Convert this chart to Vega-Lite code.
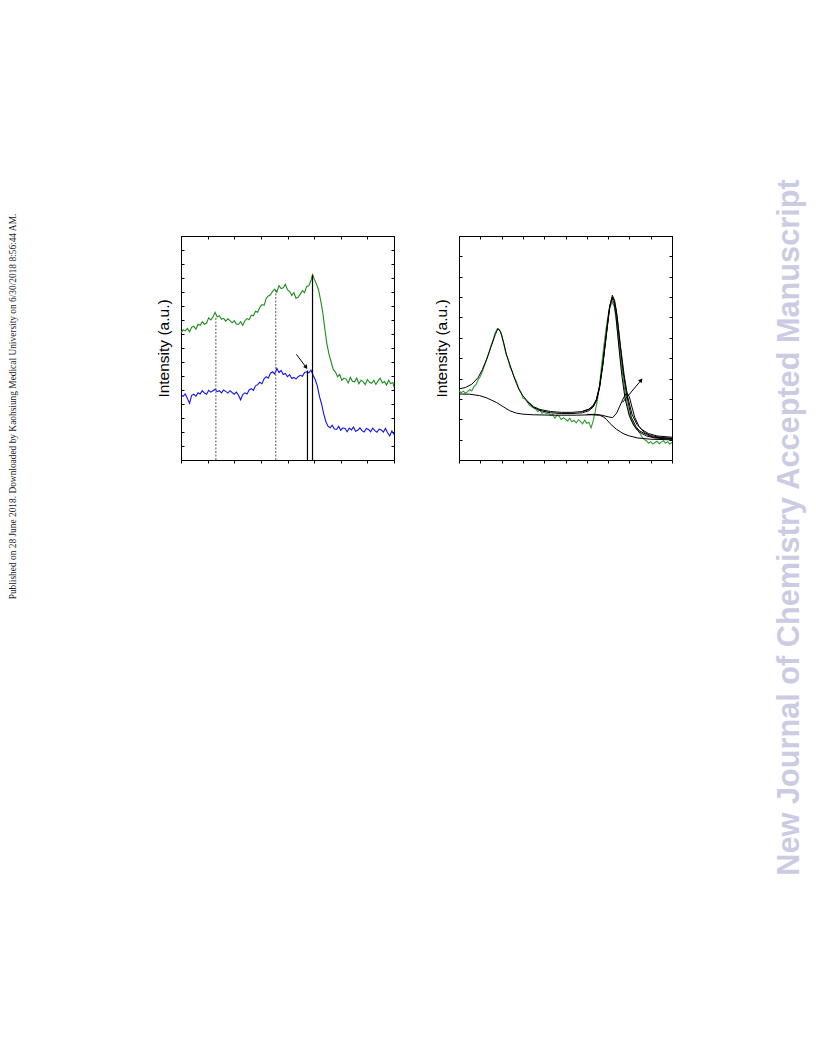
{
  "$schema": "https://vega.github.io/schema/vega-lite/v6.json",
  "background": "white",
  "padding": {"left": 5, "top": 178, "right": 5, "bottom": 5},
  "bounds": "flush",
  "spacing": 65,
  "datasets": {
    "leftNote": [{"label": "Published on 28 June 2018. Downloaded by Kaohsiung Medical University on 6/30/2018 8:56:44 AM.", "x": 8, "y": 53.5}],
    "rightNote": [{"label": "New Journal of Chemistry Accepted Manuscript", "x": 53, "y": -67.5}],
    "left": [
      {"s":"g","x":0.00,"y":9.10},{"s":"g","x":0.08,"y":9.30},{"s":"g","x":0.16,"y":9.22},{"s":"g","x":0.24,"y":9.40},{"s":"g","x":0.32,"y":9.15},
      {"s":"g","x":0.40,"y":9.48},{"s":"g","x":0.48,"y":9.55},{"s":"g","x":0.56,"y":9.35},{"s":"g","x":0.64,"y":9.70},{"s":"g","x":0.72,"y":9.62},
      {"s":"g","x":0.80,"y":9.88},{"s":"g","x":0.88,"y":9.70},{"s":"g","x":0.96,"y":9.78},{"s":"g","x":1.04,"y":10.15},{"s":"g","x":1.12,"y":10.00},
      {"s":"g","x":1.20,"y":10.20},{"s":"g","x":1.28,"y":10.55},{"s":"g","x":1.36,"y":10.22},{"s":"g","x":1.44,"y":10.30},{"s":"g","x":1.52,"y":10.05},
      {"s":"g","x":1.60,"y":10.12},{"s":"g","x":1.68,"y":9.92},{"s":"g","x":1.76,"y":10.08},{"s":"g","x":1.84,"y":9.95},{"s":"g","x":1.92,"y":9.80},
      {"s":"g","x":2.00,"y":9.95},{"s":"g","x":2.08,"y":9.72},{"s":"g","x":2.16,"y":9.68},{"s":"g","x":2.24,"y":9.88},{"s":"g","x":2.32,"y":9.62},
      {"s":"g","x":2.40,"y":9.95},{"s":"g","x":2.48,"y":10.10},{"s":"g","x":2.56,"y":10.02},{"s":"g","x":2.64,"y":10.35},{"s":"g","x":2.72,"y":10.30},
      {"s":"g","x":2.80,"y":10.62},{"s":"g","x":2.88,"y":10.55},{"s":"g","x":2.96,"y":10.90},{"s":"g","x":3.04,"y":11.10},{"s":"g","x":3.12,"y":11.05},
      {"s":"g","x":3.20,"y":11.55},{"s":"g","x":3.28,"y":11.72},{"s":"g","x":3.36,"y":11.80},{"s":"g","x":3.44,"y":12.05},{"s":"g","x":3.52,"y":12.20},
      {"s":"g","x":3.60,"y":11.98},{"s":"g","x":3.68,"y":12.45},{"s":"g","x":3.76,"y":12.25},{"s":"g","x":3.84,"y":12.30},{"s":"g","x":3.92,"y":12.55},
      {"s":"g","x":4.00,"y":12.15},{"s":"g","x":4.08,"y":12.05},{"s":"g","x":4.16,"y":11.75},{"s":"g","x":4.24,"y":11.95},{"s":"g","x":4.32,"y":11.55},
      {"s":"g","x":4.40,"y":11.62},{"s":"g","x":4.48,"y":11.85},{"s":"g","x":4.56,"y":12.10},{"s":"g","x":4.64,"y":11.95},{"s":"g","x":4.72,"y":12.40},
      {"s":"g","x":4.80,"y":12.45},{"s":"g","x":4.88,"y":12.80},{"s":"g","x":4.94,"y":13.25},{"s":"g","x":5.00,"y":12.95},{"s":"g","x":5.08,"y":12.60},
      {"s":"g","x":5.16,"y":12.20},{"s":"g","x":5.24,"y":11.45},{"s":"g","x":5.32,"y":10.60},{"s":"g","x":5.40,"y":9.40},{"s":"g","x":5.48,"y":8.30},
      {"s":"g","x":5.56,"y":7.55},{"s":"g","x":5.64,"y":7.00},{"s":"g","x":5.72,"y":6.45},{"s":"g","x":5.80,"y":6.30},{"s":"g","x":5.88,"y":5.95},
      {"s":"g","x":5.96,"y":6.10},{"s":"g","x":6.04,"y":5.70},{"s":"g","x":6.12,"y":5.85},{"s":"g","x":6.20,"y":5.78},{"s":"g","x":6.28,"y":5.50},
      {"s":"g","x":6.36,"y":5.90},{"s":"g","x":6.44,"y":5.62},{"s":"g","x":6.52,"y":5.58},{"s":"g","x":6.60,"y":5.85},{"s":"g","x":6.68,"y":5.45},
      {"s":"g","x":6.76,"y":5.70},{"s":"g","x":6.84,"y":5.60},{"s":"g","x":6.92,"y":5.38},{"s":"g","x":7.00,"y":5.75},{"s":"g","x":7.08,"y":5.55},
      {"s":"g","x":7.16,"y":5.48},{"s":"g","x":7.24,"y":5.70},{"s":"g","x":7.32,"y":5.40},{"s":"g","x":7.40,"y":5.65},{"s":"g","x":7.48,"y":5.85},
      {"s":"g","x":7.56,"y":5.50},{"s":"g","x":7.64,"y":5.60},{"s":"g","x":7.72,"y":5.35},{"s":"g","x":7.80,"y":5.70},{"s":"g","x":7.88,"y":5.45},
      {"s":"g","x":7.96,"y":5.55},{"s":"g","x":8.00,"y":5.18},
      {"s":"b","x":0.00,"y":4.65},{"s":"b","x":0.08,"y":4.55},{"s":"b","x":0.16,"y":4.72},{"s":"b","x":0.24,"y":4.40},{"s":"b","x":0.32,"y":4.05},
      {"s":"b","x":0.40,"y":4.62},{"s":"b","x":0.48,"y":4.70},{"s":"b","x":0.56,"y":4.55},{"s":"b","x":0.64,"y":4.80},{"s":"b","x":0.72,"y":4.72},
      {"s":"b","x":0.80,"y":4.95},{"s":"b","x":0.88,"y":4.78},{"s":"b","x":0.96,"y":4.70},{"s":"b","x":1.04,"y":4.98},{"s":"b","x":1.12,"y":4.85},
      {"s":"b","x":1.20,"y":4.95},{"s":"b","x":1.28,"y":5.05},{"s":"b","x":1.36,"y":4.88},{"s":"b","x":1.44,"y":4.95},{"s":"b","x":1.52,"y":4.80},
      {"s":"b","x":1.60,"y":5.00},{"s":"b","x":1.68,"y":4.90},{"s":"b","x":1.76,"y":4.78},{"s":"b","x":1.84,"y":4.95},{"s":"b","x":1.92,"y":4.82},
      {"s":"b","x":2.00,"y":4.70},{"s":"b","x":2.08,"y":4.85},{"s":"b","x":2.16,"y":4.62},{"s":"b","x":2.24,"y":4.30},{"s":"b","x":2.32,"y":4.68},
      {"s":"b","x":2.40,"y":4.80},{"s":"b","x":2.48,"y":4.72},{"s":"b","x":2.56,"y":5.00},{"s":"b","x":2.64,"y":5.10},{"s":"b","x":2.72,"y":4.98},
      {"s":"b","x":2.80,"y":5.30},{"s":"b","x":2.88,"y":5.38},{"s":"b","x":2.96,"y":5.55},{"s":"b","x":3.04,"y":5.45},{"s":"b","x":3.12,"y":5.80},
      {"s":"b","x":3.20,"y":5.95},{"s":"b","x":3.28,"y":5.85},{"s":"b","x":3.36,"y":6.20},{"s":"b","x":3.44,"y":6.30},{"s":"b","x":3.52,"y":6.15},
      {"s":"b","x":3.60,"y":6.55},{"s":"b","x":3.68,"y":6.25},{"s":"b","x":3.76,"y":6.40},{"s":"b","x":3.84,"y":6.10},{"s":"b","x":3.92,"y":6.18},
      {"s":"b","x":4.00,"y":5.95},{"s":"b","x":4.08,"y":6.10},{"s":"b","x":4.16,"y":5.82},{"s":"b","x":4.24,"y":5.90},{"s":"b","x":4.32,"y":5.78},
      {"s":"b","x":4.40,"y":5.95},{"s":"b","x":4.48,"y":6.05},{"s":"b","x":4.56,"y":5.98},{"s":"b","x":4.64,"y":6.25},{"s":"b","x":4.72,"y":6.30},
      {"s":"b","x":4.80,"y":6.22},{"s":"b","x":4.88,"y":6.42},{"s":"b","x":4.96,"y":6.05},{"s":"b","x":5.04,"y":5.75},{"s":"b","x":5.12,"y":5.30},
      {"s":"b","x":5.20,"y":4.55},{"s":"b","x":5.28,"y":4.00},{"s":"b","x":5.36,"y":3.30},{"s":"b","x":5.44,"y":2.75},{"s":"b","x":5.52,"y":2.42},
      {"s":"b","x":5.60,"y":2.30},{"s":"b","x":5.68,"y":2.48},{"s":"b","x":5.76,"y":2.22},{"s":"b","x":5.84,"y":2.18},{"s":"b","x":5.92,"y":2.40},
      {"s":"b","x":6.00,"y":2.12},{"s":"b","x":6.08,"y":2.30},{"s":"b","x":6.16,"y":2.25},{"s":"b","x":6.24,"y":2.02},{"s":"b","x":6.32,"y":2.28},
      {"s":"b","x":6.40,"y":2.15},{"s":"b","x":6.48,"y":2.35},{"s":"b","x":6.56,"y":2.05},{"s":"b","x":6.64,"y":2.12},{"s":"b","x":6.72,"y":2.30},
      {"s":"b","x":6.80,"y":2.10},{"s":"b","x":6.88,"y":2.00},{"s":"b","x":6.96,"y":2.25},{"s":"b","x":7.04,"y":2.18},{"s":"b","x":7.12,"y":2.02},
      {"s":"b","x":7.20,"y":2.28},{"s":"b","x":7.28,"y":2.10},{"s":"b","x":7.36,"y":1.98},{"s":"b","x":7.44,"y":2.20},{"s":"b","x":7.52,"y":2.15},
      {"s":"b","x":7.60,"y":2.00},{"s":"b","x":7.68,"y":2.25},{"s":"b","x":7.76,"y":1.95},{"s":"b","x":7.84,"y":1.72},{"s":"b","x":7.92,"y":2.08},
      {"s":"b","x":8.00,"y":1.82}
    ],
    "leftDotted": [{"x": 1.31, "y0": 0, "y1": 10.2}, {"x": 3.56, "y0": 0, "y1": 12.25}],
    "leftSolid": [{"x": 4.75, "y0": 0, "y1": 6.4}, {"x": 4.94, "y0": 0, "y1": 13.2}],
    "leftArrow": [{"x": 4.33, "y": 7.55}, {"x": 4.70, "y": 6.62}],
    "leftHead": [{"x": 4.70, "y": 6.62}],
    "right": [
      {"x":0.0,"y":3.40},{"x":0.1,"y":3.30},{"x":0.2,"y":3.38},{"x":0.3,"y":3.28},{"x":0.4,"y":3.36},{"x":0.5,"y":3.45},{"x":0.6,"y":3.40},{"x":0.7,"y":3.60},{"x":0.8,"y":3.70},{"x":0.9,"y":3.95},
      {"x":1.0,"y":4.10},{"x":1.1,"y":4.35},{"x":1.2,"y":4.65},{"x":1.3,"y":4.95},{"x":1.4,"y":5.25},{"x":1.5,"y":5.60},{"x":1.6,"y":5.90},{"x":1.7,"y":6.25},{"x":1.8,"y":6.45},{"x":1.9,"y":6.40},
      {"x":2.0,"y":6.15},{"x":2.1,"y":5.70},{"x":2.2,"y":5.25},{"x":2.3,"y":4.95},{"x":2.4,"y":4.55},{"x":2.5,"y":4.35},{"x":2.6,"y":4.05},{"x":2.7,"y":3.85},{"x":2.8,"y":3.50},{"x":2.9,"y":3.35},
      {"x":3.0,"y":3.05},{"x":3.1,"y":3.00},{"x":3.2,"y":2.85},{"x":3.3,"y":2.70},{"x":3.4,"y":2.62},{"x":3.5,"y":2.55},{"x":3.6,"y":2.50},{"x":3.7,"y":2.38},{"x":3.8,"y":2.45},{"x":3.9,"y":2.30},
      {"x":4.0,"y":2.36},{"x":4.1,"y":2.28},{"x":4.2,"y":2.32},{"x":4.3,"y":2.18},{"x":4.4,"y":2.25},{"x":4.5,"y":2.05},{"x":4.6,"y":2.20},{"x":4.7,"y":2.15},{"x":4.8,"y":1.98},{"x":4.9,"y":2.08},
      {"x":5.0,"y":2.00},{"x":5.1,"y":1.92},{"x":5.2,"y":2.05},{"x":5.3,"y":1.88},{"x":5.4,"y":1.95},{"x":5.5,"y":1.82},{"x":5.6,"y":1.98},{"x":5.7,"y":1.90},{"x":5.8,"y":1.78},{"x":5.9,"y":1.95},
      {"x":6.0,"y":1.80},{"x":6.1,"y":1.85},{"x":6.2,"y":1.58},{"x":6.3,"y":1.92},{"x":6.4,"y":2.40},{"x":6.5,"y":2.95},{"x":6.6,"y":3.70},{"x":6.7,"y":4.70},{"x":6.8,"y":5.60},{"x":6.9,"y":6.40},
      {"x":7.0,"y":7.10},{"x":7.1,"y":7.55},{"x":7.2,"y":7.75},{"x":7.3,"y":7.50},{"x":7.4,"y":6.70},{"x":7.5,"y":5.80},{"x":7.6,"y":4.85},{"x":7.7,"y":4.05},{"x":7.8,"y":3.30},{"x":7.9,"y":2.75},
      {"x":8.0,"y":2.25},{"x":8.1,"y":1.95},{"x":8.2,"y":1.75},{"x":8.3,"y":1.55},{"x":8.4,"y":1.45},{"x":8.5,"y":1.30},{"x":8.6,"y":1.12},{"x":8.7,"y":1.00},{"x":8.8,"y":0.95},{"x":8.9,"y":0.82},
      {"x":9.0,"y":0.90},{"x":9.1,"y":0.78},{"x":9.2,"y":0.86},{"x":9.3,"y":0.92},{"x":9.4,"y":0.80},{"x":9.5,"y":0.88},{"x":9.6,"y":0.95},{"x":9.7,"y":0.82},{"x":9.8,"y":0.90},{"x":9.9,"y":0.78},
      {"x":10.0,"y":0.88}
    ],
    "fits": [
      {"f":"fit1","x":0,"y":3.49},{"f":"fit1","x":0.3,"y":3.56},{"f":"fit1","x":0.6,"y":3.72},{"f":"fit1","x":0.9,"y":4.05},{"f":"fit1","x":1.1,"y":4.45},
      {"f":"fit1","x":1.3,"y":4.95},{"f":"fit1","x":1.5,"y":5.55},{"f":"fit1","x":1.7,"y":6.15},{"f":"fit1","x":1.83,"y":6.45},{"f":"fit1","x":1.95,"y":6.3},
      {"f":"fit1","x":2.1,"y":5.75},{"f":"fit1","x":2.22,"y":5.2},{"f":"fit1","x":2.4,"y":4.65},{"f":"fit1","x":2.54,"y":4.2},{"f":"fit1","x":2.7,"y":3.75},
      {"f":"fit1","x":2.85,"y":3.4},{"f":"fit1","x":3.0,"y":3.15},{"f":"fit1","x":3.2,"y":2.9},{"f":"fit1","x":3.5,"y":2.62},{"f":"fit1","x":3.8,"y":2.48},
      {"f":"fit1","x":4.3,"y":2.38},{"f":"fit1","x":4.8,"y":2.34},{"f":"fit1","x":5.3,"y":2.34},{"f":"fit1","x":5.8,"y":2.38},{"f":"fit1","x":6.1,"y":2.48},
      {"f":"fit1","x":6.3,"y":2.65},{"f":"fit1","x":6.45,"y":2.95},{"f":"fit1","x":6.6,"y":3.6},{"f":"fit1","x":6.75,"y":4.7},{"f":"fit1","x":6.92,"y":6.2},
      {"f":"fit1","x":7.07,"y":7.5},{"f":"fit1","x":7.2,"y":8.09},{"f":"fit1","x":7.3,"y":7.85},{"f":"fit1","x":7.39,"y":7.3},{"f":"fit1","x":7.54,"y":5.85},
      {"f":"fit1","x":7.7,"y":4.4},{"f":"fit1","x":7.86,"y":3.25},{"f":"fit1","x":8.09,"y":2.1},{"f":"fit1","x":8.3,"y":1.65},{"f":"fit1","x":8.48,"y":1.43},
      {"f":"fit1","x":8.8,"y":1.25},{"f":"fit1","x":9.1,"y":1.13},{"f":"fit1","x":9.5,"y":1.09},{"f":"fit1","x":10,"y":1.07},
      {"f":"fit2","x":3.2,"y":2.88},{"f":"fit2","x":3.5,"y":2.58},{"f":"fit2","x":3.8,"y":2.43},{"f":"fit2","x":4.3,"y":2.32},{"f":"fit2","x":4.8,"y":2.28},
      {"f":"fit2","x":5.3,"y":2.28},{"f":"fit2","x":5.8,"y":2.32},{"f":"fit2","x":6.1,"y":2.42},{"f":"fit2","x":6.3,"y":2.6},{"f":"fit2","x":6.45,"y":2.9},
      {"f":"fit2","x":6.6,"y":3.55},{"f":"fit2","x":6.75,"y":4.65},{"f":"fit2","x":6.92,"y":6.15},{"f":"fit2","x":7.07,"y":7.45},{"f":"fit2","x":7.18,"y":7.95},
      {"f":"fit2","x":7.28,"y":7.7},{"f":"fit2","x":7.37,"y":7.1},{"f":"fit2","x":7.5,"y":5.6},{"f":"fit2","x":7.65,"y":4.1},{"f":"fit2","x":7.8,"y":3.0},
      {"f":"fit2","x":8.0,"y":2.15},{"f":"fit2","x":8.2,"y":1.7},{"f":"fit2","x":8.45,"y":1.38},{"f":"fit2","x":8.8,"y":1.18},{"f":"fit2","x":9.2,"y":1.08},
      {"f":"fit2","x":10,"y":1.02},
      {"f":"fit3","x":5.8,"y":2.4},{"f":"fit3","x":6.1,"y":2.5},{"f":"fit3","x":6.3,"y":2.68},{"f":"fit3","x":6.45,"y":2.98},{"f":"fit3","x":6.6,"y":3.62},
      {"f":"fit3","x":6.75,"y":4.72},{"f":"fit3","x":6.92,"y":6.22},{"f":"fit3","x":7.07,"y":7.55},{"f":"fit3","x":7.2,"y":8.0},{"f":"fit3","x":7.3,"y":7.8},
      {"f":"fit3","x":7.42,"y":7.1},{"f":"fit3","x":7.58,"y":5.6},{"f":"fit3","x":7.75,"y":4.2},{"f":"fit3","x":7.92,"y":3.1},{"f":"fit3","x":8.12,"y":2.25},
      {"f":"fit3","x":8.35,"y":1.75},{"f":"fit3","x":8.6,"y":1.48},{"f":"fit3","x":8.9,"y":1.3},{"f":"fit3","x":9.3,"y":1.18},{"f":"fit3","x":10,"y":1.12},
      {"f":"base","x":0,"y":3.24},{"f":"base","x":0.5,"y":3.23},{"f":"base","x":0.97,"y":3.16},{"f":"base","x":1.3,"y":3.05},{"f":"base","x":1.75,"y":2.83},
      {"f":"base","x":2.1,"y":2.6},{"f":"base","x":2.38,"y":2.42},{"f":"base","x":2.7,"y":2.3},{"f":"base","x":3.0,"y":2.25},{"f":"base","x":3.5,"y":2.22},
      {"f":"base","x":4.5,"y":2.2},{"f":"base","x":5.5,"y":2.2},{"f":"base","x":6.2,"y":2.22},{"f":"base","x":6.6,"y":2.2},{"f":"base","x":6.8,"y":2.1},
      {"f":"base","x":6.92,"y":2.0},{"f":"base","x":7.1,"y":1.78},{"f":"base","x":7.39,"y":1.51},{"f":"base","x":7.7,"y":1.3},{"f":"base","x":8.0,"y":1.18},
      {"f":"base","x":8.4,"y":1.08},{"f":"base","x":9.0,"y":1.02},{"f":"base","x":10,"y":0.99},
      {"f":"shoulder","x":6.0,"y":2.24},{"f":"shoulder","x":6.4,"y":2.24},{"f":"shoulder","x":6.7,"y":2.2},{"f":"shoulder","x":7.0,"y":2.12},{"f":"shoulder","x":7.21,"y":2.08},
      {"f":"shoulder","x":7.4,"y":2.3},{"f":"shoulder","x":7.55,"y":2.65},{"f":"shoulder","x":7.68,"y":2.95},{"f":"shoulder","x":7.8,"y":3.2},{"f":"shoulder","x":7.9,"y":3.28},
      {"f":"shoulder","x":8.0,"y":3.1},{"f":"shoulder","x":8.12,"y":2.6},{"f":"shoulder","x":8.25,"y":2.1},{"f":"shoulder","x":8.45,"y":1.65},{"f":"shoulder","x":8.7,"y":1.35},
      {"f":"shoulder","x":9.0,"y":1.2},{"f":"shoulder","x":9.5,"y":1.1},{"f":"shoulder","x":10,"y":1.05}
    ],
    "rightArrow": [{"x": 7.68, "y": 2.83}, {"x": 8.55, "y": 3.92}],
    "rightHead": [{"x": 8.55, "y": 3.92}]
  },
  "hconcat": [
    {
      "width": 111, "height": 224,
      "data": {"name": "leftNote"},
      "mark": {"type": "text", "angle": 270, "font": "Liberation Serif", "fontSize": 9.4, "color": "#222", "align": "center", "baseline": "middle"},
      "encoding": {
        "x": {"field": "x", "type": "quantitative", "scale": {"domain": [0, 111], "nice": false, "zero": false}, "axis": null},
        "y": {"field": "y", "type": "quantitative", "scale": {"domain": [0, 224], "nice": false, "zero": false}, "axis": null},
        "text": {"field": "label"}
      }
    },
    {
      "width": 213, "height": 224,
      "resolve": {"axis": {"x": "independent", "y": "independent"}},
      "layer": [
        {
          "data": {"name": "left"},
          "mark": {"type": "line", "strokeWidth": 1.1},
          "encoding": {
            "x": {"field": "x", "type": "quantitative", "scale": {"domain": [0, 8], "nice": false, "zero": false}, "axis": {"orient": "bottom", "values": [0,1,2,3,4,5,6,7,8], "tickSize": 3, "title": null}},
            "y": {"field": "y", "type": "quantitative", "scale": {"domain": [0, 16], "nice": false, "zero": false}, "axis": {"orient": "left", "values": [0,1,2,3,4,5,6,7,8,9,10,11,12,13,14,15,16], "tickSize": -3, "title": "Intensity (a.u.)", "titlePadding": 9}},
            "color": {"field": "s", "type": "nominal", "scale": {"domain": ["g", "b"], "range": ["#1e8c1e", "#1212f0"]}, "legend": null}
          }
        },
        {
          "data": {"name": "leftDotted"},
          "mark": {"type": "rule", "color": "#555", "strokeWidth": 1, "strokeDash": [2, 1.5]},
          "encoding": {
            "x": {"field": "x", "type": "quantitative", "axis": {"orient": "top", "values": [0,1,2,3,4,5,6,7,8], "tickSize": -3, "title": null}},
            "y": {"field": "y0", "type": "quantitative", "axis": {"orient": "right", "values": [0,1,2,3,4,5,6,7,8,9,10,11,12,13,14,15,16], "tickSize": -3, "title": null}},
            "y2": {"field": "y1"}
          }
        },
        {
          "data": {"name": "leftSolid"},
          "mark": {"type": "rule", "color": "#000", "strokeWidth": 1.2},
          "encoding": {
            "x": {"field": "x", "type": "quantitative", "axis": null},
            "y": {"field": "y0", "type": "quantitative", "axis": null},
            "y2": {"field": "y1"}
          }
        },
        {
          "data": {"name": "leftArrow"},
          "mark": {"type": "line", "color": "#000", "strokeWidth": 1},
          "encoding": {
            "x": {"field": "x", "type": "quantitative", "axis": null},
            "y": {"field": "y", "type": "quantitative", "axis": null}
          }
        },
        {
          "data": {"name": "leftHead"},
          "mark": {"type": "point", "shape": "triangle-up", "filled": true, "color": "#000", "size": 22, "angle": 146, "opacity": 1},
          "encoding": {
            "x": {"field": "x", "type": "quantitative", "axis": null},
            "y": {"field": "y", "type": "quantitative", "axis": null}
          }
        }
      ]
    },
    {
      "width": 213, "height": 224,
      "resolve": {"axis": {"x": "independent", "y": "independent"}},
      "layer": [
        {
          "data": {"name": "right"},
          "mark": {"type": "line", "strokeWidth": 1.1, "color": "#2f9a2f"},
          "encoding": {
            "x": {"field": "x", "type": "quantitative", "scale": {"domain": [0, 10], "nice": false, "zero": false}, "axis": {"orient": "bottom", "values": [0,1,2,3,4,5,6,7,8,9,10], "tickSize": 3, "title": null}},
            "y": {"field": "y", "type": "quantitative", "scale": {"domain": [0, 11], "nice": false, "zero": false}, "axis": {"orient": "left", "values": [0,1,2,3,4,5,6,7,8,9,10,11], "tickSize": -3, "title": "Intensity (a.u.)", "titlePadding": 9}}
          }
        },
        {
          "data": {"name": "fits"},
          "mark": {"type": "line", "strokeWidth": 1, "color": "#000"},
          "encoding": {
            "x": {"field": "x", "type": "quantitative", "axis": {"orient": "top", "values": [0,1,2,3,4,5,6,7,8,9,10], "tickSize": -3, "title": null}},
            "y": {"field": "y", "type": "quantitative", "axis": {"orient": "right", "values": [0,1,2,3,4,5,6,7,8,9,10,11], "tickSize": -3, "title": null}},
            "detail": {"field": "f", "type": "nominal"}
          }
        },
        {
          "data": {"name": "rightArrow"},
          "mark": {"type": "line", "color": "#000", "strokeWidth": 1},
          "encoding": {
            "x": {"field": "x", "type": "quantitative", "axis": null},
            "y": {"field": "y", "type": "quantitative", "axis": null}
          }
        },
        {
          "data": {"name": "rightHead"},
          "mark": {"type": "point", "shape": "triangle-up", "filled": true, "color": "#000", "size": 22, "angle": 40, "opacity": 1},
          "encoding": {
            "x": {"field": "x", "type": "quantitative", "axis": null},
            "y": {"field": "y", "type": "quantitative", "axis": null}
          }
        }
      ]
    },
    {
      "width": 70, "height": 224,
      "data": {"name": "rightNote"},
      "mark": {"type": "text", "angle": 270, "font": "Liberation Sans", "fontWeight": "bold", "fontSize": 30.7, "color": "#cbcbe3", "align": "center", "baseline": "middle"},
      "encoding": {
        "x": {"field": "x", "type": "quantitative", "scale": {"domain": [0, 70], "nice": false, "zero": false}, "axis": null},
        "y": {"field": "y", "type": "quantitative", "scale": {"domain": [0, 224], "nice": false, "zero": false}, "axis": null},
        "text": {"field": "label"}
      }
    }
  ],
  "config": {
    "view": {"stroke": null},
    "axis": {"grid": false, "labels": false, "domainColor": "#000", "domainWidth": 1, "tickColor": "#000", "tickWidth": 1, "titleFont": "Liberation Sans", "titleFontSize": 15.5, "titleFontWeight": "normal", "titleColor": "#000"}
  }
}
